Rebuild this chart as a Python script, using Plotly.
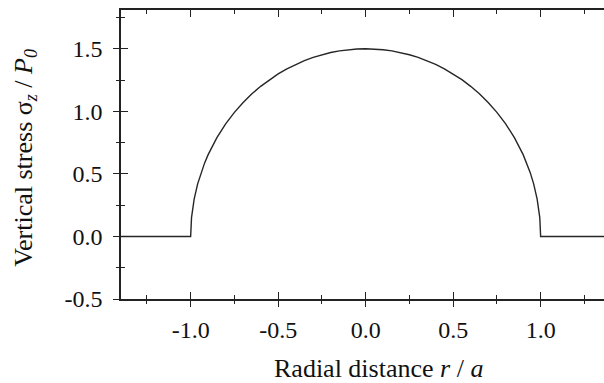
import plotly.graph_objects as go

# Radial distance r/a and vertical stress sigma_z/P0
r_vals = [-1.4, -1.0, -1.0, -0.995, -0.98, -0.96, -0.94, -0.92, -0.9, -0.85, -0.8,
          -0.75, -0.7, -0.65, -0.6, -0.55, -0.5, -0.45, -0.4, -0.35, -0.3, -0.25,
          -0.2, -0.15, -0.1, -0.05, 0.0, 0.05, 0.1, 0.15, 0.2, 0.25, 0.3, 0.35,
          0.4, 0.45, 0.5, 0.55, 0.6, 0.65, 0.7, 0.75, 0.8, 0.85, 0.9, 0.92, 0.94,
          0.96, 0.98, 0.995, 1.0, 1.0, 1.4]
stress_vals = [0.0, 0.0, 0.0, 0.15, 0.298, 0.42, 0.512, 0.588, 0.654, 0.79, 0.9,
               0.992, 1.071, 1.14, 1.2, 1.253, 1.299, 1.34, 1.375, 1.405, 1.431, 1.452,
               1.47, 1.483, 1.492, 1.498, 1.5, 1.498, 1.492, 1.483, 1.47, 1.452, 1.431, 1.405,
               1.375, 1.34, 1.299, 1.253, 1.2, 1.14, 1.071, 0.992, 0.9, 0.79, 0.654, 0.588, 0.512,
               0.42, 0.298, 0.15, 0.0, 0.0, 0.0]

x_tickvals = [-1.0, -0.5, 0.0, 0.5, 1.0]
x_ticktext = ["-1.0", "-0.5", "0.0", "0.5", "1.0"]
y_tickvals = [-0.5, 0.0, 0.5, 1.0, 1.5]
y_ticktext = ["-0.5", "0.0", "0.5", "1.0", "1.5"]

x_title = "Radial distance <i>r</i> / <i>a</i>"
y_title = "Vertical stress σ<sub><i>z</i></sub> / <i>P</i><sub><i>0</i></sub>"

X_RANGE = [-1.398, 1.362]
Y_RANGE = [-0.5, 1.81]
FONT = "Liberation Serif, Times New Roman, serif"

fig = go.Figure()
fig.add_trace(go.Scatter(x=r_vals, y=stress_vals, mode="lines",
                         line=dict(color="#262626", width=1.4), showlegend=False,
                         hoverinfo="skip"))
# invisible trace to activate overlay axes (outward half of crossing ticks)
fig.add_trace(go.Scatter(x=[None], y=[None], xaxis="x2", yaxis="y2",
                         mode="lines", showlegend=False))

common_minor_in = dict(ticks="inside", ticklen=4, tickwidth=1.3, tickcolor="#222",
                       dtick=0.25, tick0=0, showgrid=False)
common_minor_out = dict(ticks="outside", ticklen=4, tickwidth=1.3, tickcolor="#222",
                        dtick=0.25, tick0=0, showgrid=False)

fig.update_layout(
    width=604, height=383,
    margin=dict(l=121, r=0, t=10, b=84),
    paper_bgcolor="white", plot_bgcolor="white",
    font=dict(family=FONT, color="#111", size=24),
    xaxis=dict(range=X_RANGE, showgrid=False, zeroline=False,
               showline=True, linecolor="#222", linewidth=1.6, mirror="ticks",
               ticks="inside", ticklen=7, tickwidth=1.3, tickcolor="#222",
               tickvals=x_tickvals, ticktext=x_ticktext,
               tickfont=dict(family=FONT, size=24, color="#111"),
               ticklabelstandoff=8,
               minor=common_minor_in),
    yaxis=dict(range=Y_RANGE, showgrid=False, zeroline=False,
               showline=True, linecolor="#222", linewidth=1.6, mirror=False,
               ticks="inside", ticklen=7, tickwidth=1.3, tickcolor="#222",
               tickvals=y_tickvals, ticktext=y_ticktext,
               tickfont=dict(family=FONT, size=24, color="#111"),
               ticklabelstandoff=12,
               minor=common_minor_in),
    xaxis2=dict(range=X_RANGE, overlaying="x", side="bottom", anchor="y2",
                showgrid=False, zeroline=False, showline=False,
                ticks="outside", ticklen=7, tickwidth=1.3, tickcolor="#222",
                tickvals=x_tickvals, showticklabels=False,
                minor=common_minor_out),
    yaxis2=dict(range=Y_RANGE, overlaying="y", side="left", anchor="x2",
                showgrid=False, zeroline=False, showline=False,
                ticks="outside", ticklen=7, tickwidth=1.3, tickcolor="#222",
                tickvals=y_tickvals, showticklabels=False,
                minor=common_minor_out),
    annotations=[
        dict(text=x_title, xref="paper", yref="paper", x=0.5335, y=-0.239,
             xanchor="center", yanchor="middle", showarrow=False,
             font=dict(family=FONT, size=26, color="#111")),
        dict(text=y_title, xref="paper", yref="paper", x=-0.199, y=0.488,
             xanchor="center", yanchor="middle", showarrow=False, textangle=-90,
             font=dict(family=FONT, size=26, color="#111")),
    ],
)

fig.write_html("out.html", config={"displayModeBar": False},
               post_script="document.body.style.margin='0';document.body.style.overflow='hidden';")
